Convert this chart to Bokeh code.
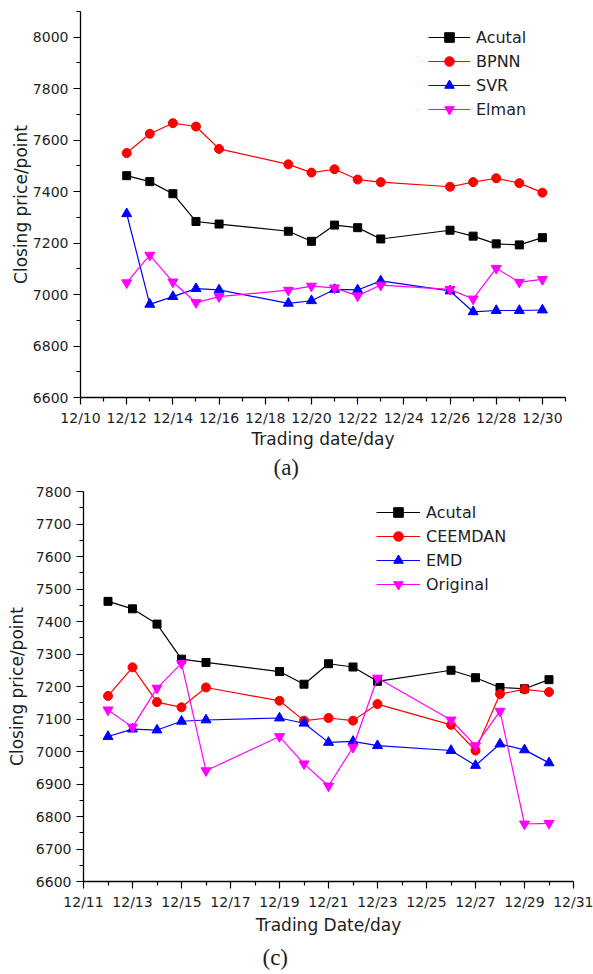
from bokeh.plotting import figure
from bokeh.layouts import column
from bokeh.models import Range1d, FixedTicker, Legend, LegendItem, Title
from bokeh.embed import file_html
from bokeh.resources import INLINE

# ---------------- data ----------------
dates = ["12/12", "12/13", "12/14", "12/15", "12/16", "12/19", "12/20", "12/21",
         "12/22", "12/23", "12/26", "12/27", "12/28", "12/29", "12/30"]

actual = [7462, 7439, 7392, 7284, 7274, 7246, 7207, 7270, 7260, 7216, 7250, 7227, 7197, 7193, 7221]

# panel (a)
bpnn = [7550, 7625, 7666, 7653, 7566, 7506, 7474, 7487, 7447, 7437, 7419, 7437, 7452, 7433, 7396]
svr = [7314, 6962, 6992, 7023, 7018, 6966, 6976, 7020, 7018, 7053, 7014, 6933, 6938, 6938, 6940]
elman = [7046, 7153, 7049, 6969, 6992, 7017, 7033, 7026, 6995, 7037, 7020, 6983, 7102, 7048, 7059]

# panel (c)
ceemdan = [7171, 7259, 7152, 7136, 7197, 7156, 7095, 7103, 7095, 7146, 7082, 7003, 7177, 7191, 7183]
emd = [7046, 7069, 7066, 7093, 7097, 7103, 7087, 7028, 7031, 7018, 7003, 6957, 7023, 7005, 6965]
original = [7128, 7075, 7195, 7271, 6941, 7046, 6962, 6894, 7013, 7226, 7097, 7018, 7124, 6777, 6779]

xticks_a = ["12/10", "12/12", "12/14", "12/16", "12/18", "12/20", "12/22", "12/24", "12/26", "12/28", "12/30"]
xticks_c = ["12/11", "12/13", "12/15", "12/17", "12/19", "12/21", "12/23", "12/25", "12/27", "12/29", "12/31"]
yticks_a = [6600, 6800, 7000, 7200, 7400, 7600, 7800, 8000]
yticks_c = [6600, 6700, 6800, 6900, 7000, 7100, 7200, 7300, 7400, 7500, 7600, 7700, 7800]

labels_a = ["Acutal", "BPNN", "SVR", "Elman"]
labels_c = ["Acutal", "CEEMDAN", "EMD", "Original"]
colors = ["#000000", "#ff0000", "#0000ff", "#ff00ff"]
markers = ["square", "circle", "triangle", "inverted_triangle"]
msizes = [8, 9, 10, 10]


def day(s):
    return int(s.split("/")[1])


xs = [day(d) for d in dates]
TEXT = "#1e1e1e"
FONT = "DejaVu Sans"


def make_panel(height, xr, yr, xticks, yticks, ystep, borders, series, labels,
               xlabel, leg_loc, glyph_w, caption, cap_offset, cap_standoff,
               ylab_standoff, xlab_standoff):
    left, right, top, bottom = borders
    p = figure(width=593, height=height, x_range=Range1d(*xr), y_range=Range1d(*yr),
               output_backend="svg", toolbar_location=None,
               min_border_left=left, min_border_right=right,
               min_border_top=top, min_border_bottom=bottom)
    p.frame_align = False
    p.outline_line_color = None
    p.grid.visible = False
    p.background_fill_color = "white"

    xt = [day(t) for t in xticks]
    p.xaxis.ticker = FixedTicker(ticks=xt, minor_ticks=[v + 1 for v in xt])
    p.xaxis.major_label_overrides = {day(t): t for t in xticks}
    p.yaxis.ticker = FixedTicker(ticks=yticks,
                                 minor_ticks=[v + ystep / 2 for v in yticks])
    for ax in (p.xaxis, p.yaxis):
        ax.axis_line_color = "black"
        ax.axis_line_width = 1.3
        ax.major_tick_line_color = "black"
        ax.minor_tick_line_color = "black"
        ax.major_tick_line_width = 1.2
        ax.minor_tick_line_width = 1.2
        ax.major_tick_in = 0
        ax.major_tick_out = 7
        ax.minor_tick_in = 0
        ax.minor_tick_out = 4
        ax.major_label_text_font = FONT
        ax.major_label_text_font_size = "14px"
        ax.major_label_text_color = TEXT
        ax.axis_label_text_font = FONT
        ax.axis_label_text_font_size = "17px"
        ax.axis_label_text_font_style = "normal"
        ax.axis_label_text_color = TEXT
    p.xaxis.major_label_standoff = 5
    p.yaxis.major_label_standoff = 5
    p.xaxis.axis_label = xlabel
    p.yaxis.axis_label = "Closing price/point"
    p.yaxis.axis_label_standoff = ylab_standoff
    p.xaxis.axis_label_standoff = xlab_standoff

    items = []
    for ys, lab, col, mk, ms in zip(series, labels, colors, markers, msizes):
        lr = p.line(xs, ys, line_color=col, line_width=1.2)
        sr = p.scatter(xs, ys, marker=mk, size=ms, fill_color=col, line_color=col)
        items.append(LegendItem(label=lab, renderers=[lr, sr]))
    leg = Legend(items=items, location=leg_loc, orientation="vertical",
                 border_line_color=None, background_fill_alpha=0,
                 padding=0, margin=0, spacing=0,
                 glyph_width=glyph_w, glyph_height=24, label_height=24,
                 label_standoff=6, label_text_font=FONT,
                 label_text_font_size="16px", label_text_color=TEXT)
    p.add_layout(leg)

    cap = Title(text=caption, align="left", offset=cap_offset,
                standoff=cap_standoff,
                text_font="Liberation Serif", text_font_size="23px",
                text_font_style="normal", text_color=TEXT)
    p.add_layout(cap, "below")
    return p


pa = make_panel(480, (10, 31), (6600, 8100), xticks_a, yticks_a, 200,
                (80, 28, 11, 82), [actual, bpnn, svr, elman], labels_a,
                "Trading date/day", (348, 276), 42, "(a)", 193, 2, -1, 0)

pc = make_panel(494, (11, 31), (6600, 7800), xticks_c, yticks_c, 100,
                (83, 20, 11, 93), [actual, ceemdan, emd, original], labels_c,
                "Trading Date/day", (293, 285), 44, "(c)", 179, 10, 6, 2)

layout = column(pa, pc, spacing=0)
open("out.html", "w").write(file_html(layout, INLINE))
